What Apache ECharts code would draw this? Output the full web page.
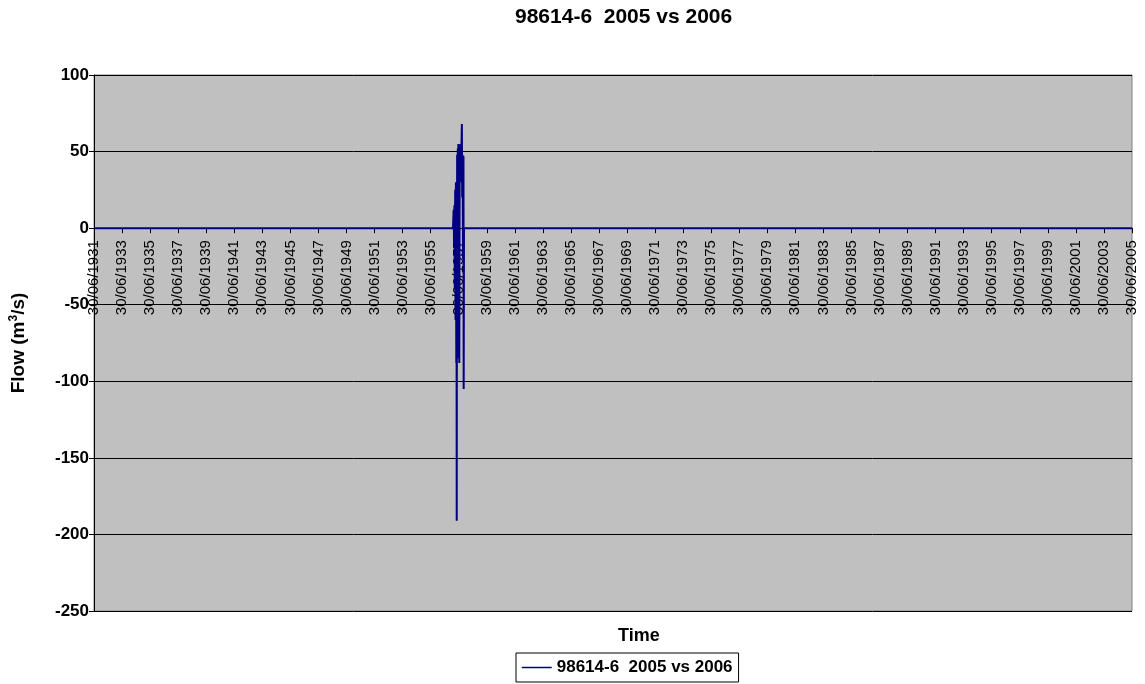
<!DOCTYPE html>
<html>
<head>
<meta charset="utf-8">
<title>98614-6  2005 vs 2006</title>
<script src="https://cdn.jsdelivr.net/npm/echarts@6/dist/echarts.min.js"></script>
<style>
  html, body { margin: 0; padding: 0; background: #ffffff; }
  #chart { width: 1145px; height: 684px; }
</style>
</head>
<body>
<div id="chart"></div>
<script>
// Flow difference record (m3/s), sampled dates and values
const seriesName = '98614-6  2005 vs 2006';
const flowDates = [
  '1931-06-30', '1957-02-01', '1957-02-18', '1957-02-28', '1957-03-10',
  '1957-03-20', '1957-03-30', '1957-04-08', '1957-04-18', '1957-04-28',
  '1957-05-04', '1957-05-09', '1957-05-14', '1957-05-20', '1957-05-28',
  '1957-06-05', '1957-06-12', '1957-06-20', '1957-06-28', '1957-07-06',
  '1957-07-15', '1957-07-25', '1957-08-05', '1957-08-15', '1957-08-25',
  '1957-09-05', '1957-09-12', '1957-09-20', '1957-09-28', '1957-10-08',
  '1957-10-20', '1957-11-01', '1957-11-06', '1957-11-14', '2005-06-30'
];
const flowValues = [
  0, 0, 12, -10, 15,
  -40, 25, -60, 30, -88,
  -30, -191, -20, 48, -85,
  52, -70, 55, -30, 50,
  -88, 54, 40, 55, 30,
  50, 57, 68, 20, 48,
  -20, 47, -105, 0, 0
];
// Axis ticks: every two years on 30 June, starting 1931
const startYear = 1931;
const endYear = 2005;
const yTicks = { min: -250, max: 100, step: 50 };

const DAY = 86400000;
const origin = Date.UTC(startYear, 5, 30);
function yearsFromOrigin(iso) {
  const p = iso.split('-').map(Number);
  return (Date.UTC(p[0], p[1] - 1, p[2]) - origin) / (365.25 * DAY);
}
const seriesData = flowDates.map((d, i) => [yearsFromOrigin(d), flowValues[i]]);

const FONT = 'Liberation Sans, Arial, sans-serif';
const GRID = { left: 92, right: 13, top: 75, bottom: 73 };
const plotHeight = 684 - GRID.top - GRID.bottom;
// the date axis crosses the flow axis at 0
const zeroFromBottom = plotHeight * (0 - yTicks.min) / (yTicks.max - yTicks.min);

const chart = echarts.init(document.getElementById('chart'), null, { renderer: 'canvas' });

chart.setOption({
  animation: false,
  backgroundColor: '#ffffff',
  title: {
    text: seriesName,
    left: 510,
    top: 2,
    textStyle: { fontFamily: FONT, fontSize: 21, fontWeight: 'bold', color: '#000' }
  },
  grid: {
    left: GRID.left, right: GRID.right, top: GRID.top, bottom: GRID.bottom,
    show: true,
    backgroundColor: '#c0c0c0',
    borderColor: '#808080',
    borderWidth: 1
  },
  legend: {
    data: [seriesName],
    left: 516,
    top: 653,
    orient: 'horizontal',
    itemWidth: 30,
    itemHeight: 14,
    itemGap: 0,
    padding: [6, 6, 6, 5],
    borderColor: '#000',
    borderWidth: 1,
    borderRadius: 0,
    itemStyle: { opacity: 0 },
    lineStyle: { color: '#000080', width: 1.5 },
    textStyle: { fontFamily: FONT, fontSize: 17, fontWeight: 'bold', color: '#000' }
  },
  xAxis: {
    type: 'value',
    min: 0,
    max: endYear - startYear,
    interval: 2,
    position: 'bottom',
    offset: -zeroFromBottom,
    axisLine: { show: true, onZero: false, lineStyle: { color: '#000', width: 1 } },
    axisTick: { show: true, inside: false, length: 5, lineStyle: { color: '#000' } },
    splitLine: { show: false },
    axisLabel: {
      rotate: 90,
      margin: 12,
      fontFamily: FONT,
      fontSize: 15,
      color: '#000',
      showMinLabel: true,
      showMaxLabel: true,
      formatter: v => '30/06/' + Math.round(startYear + v)
    }
  },
  yAxis: {
    type: 'value',
    min: yTicks.min,
    max: yTicks.max,
    interval: yTicks.step,
    name: 'Flow (m{sup|3}/s)',
    nameLocation: 'middle',
    nameRotate: 90,
    nameGap: 65,
    nameTextStyle: {
      fontFamily: FONT, fontSize: 19, fontWeight: 'bold', color: '#000',
      rich: {
        sup: { fontFamily: FONT, fontSize: 12, fontWeight: 'bold', color: '#000', verticalAlign: 'top', padding: [0, 0, 9, 0] }
      }
    },
    axisLine: { show: true, onZero: false, lineStyle: { color: '#000', width: 1 } },
    axisTick: { show: true, inside: false, length: 5, lineStyle: { color: '#000' } },
    splitLine: { show: true, lineStyle: { color: '#000', width: 1 } },
    axisLabel: {
      margin: 5,
      fontFamily: FONT,
      fontSize: 17,
      fontWeight: 'bold',
      color: '#000'
    }
  },
  graphic: [{
    type: 'text',
    left: 618,
    top: 627,
    style: { text: 'Time', font: 'bold 18px ' + FONT, fill: '#000' }
  }],
  series: [{
    name: seriesName,
    type: 'line',
    data: seriesData,
    showSymbol: false,
    symbol: 'none',
    clip: true,
    color: '#000080',
    lineStyle: { color: '#000080', width: 2 }
  }]
});
</script>
</body>
</html>
